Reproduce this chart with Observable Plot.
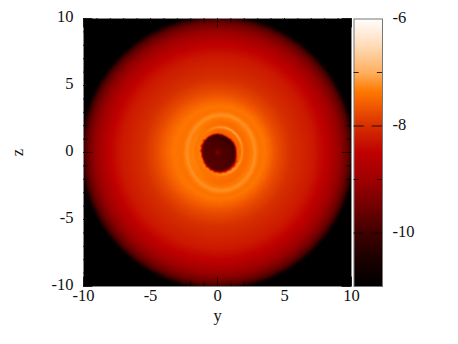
<!DOCTYPE html>
<html><head><meta charset="utf-8">
<script src="https://cdn.jsdelivr.net/npm/d3@7"></script>
<script src="https://cdn.jsdelivr.net/npm/@observablehq/plot@0.6"></script>
<style>
html,body{margin:0;padding:0;background:#fff}
#c{position:relative;width:458px;height:344px;overflow:hidden}
#c svg{position:absolute;left:0;top:0;background:transparent;font-family:"Liberation Serif",serif !important;font-size:16.5px !important}
#c svg text, #c svg g{font-family:"Liberation Serif",serif !important;font-size:16.5px !important;font-variant:normal !important}
</style></head><body><div id="c"></div>
<script>
const colorStops = [-11,-10.5,-10,-9.5,-9,-8.5,-8,-7.6,-7.35,-7,-6.5,-6];
const colorRange = ["#000000","#1a0000","#400000","#720000","#a00000","#c00000","#d63000","#f45c00","#ff7a00","#ffb060","#ffdcb8","#ffffff"];
const axisTicks = [-10,-5,0,5,10];
const minorTicks = [-9,-8,-7,-6,-4,-3,-2,-1,1,2,3,4,6,7,8,9];
const barLabels = [-6,-8,-10];
const barMajor = [-8,-10];
const barMinor = [-7,-9];

// Irregular hole edge: radius every 15 degrees, counter-clockwise from +y
const holeR = [1.34,1.35,1.35,1.33,1.30,1.32,1.34,1.32,1.30,1.26,1.22,1.17,1.14,1.14,1.15,1.20,1.25,1.32,1.39,1.43,1.45,1.46,1.45,1.39];
const holeScale = [0.01,0.25,0.75,0.97,1.03,1.09];
const holeV = [-9.4,-9.85,
  [-9.9,-9.92,-9.95,-9.98,-10,-9.98,-9.95,-9.92,-9.9,-9.88,-9.85,-9.82,-9.8,-9.8,-9.8,-9.8,-9.8,-9.8,-9.8,-9.82,-9.85,-9.85,-9.9,-9.9],
  [-10.1,-10.15,-10.2,-10.25,-10.3,-10.25,-10.2,-10.1,-10,-9.9,-9.85,-9.75,-9.7,-9.7,-9.7,-9.75,-9.8,-9.8,-9.8,-9.85,-9.9,-9.95,-10,-10.05],
  -8.7,
  [-7.6,-7.6,-7.6,-7.6,-7.6,-7.6,-7.6,-7.55,-7.5,-7.48,-7.45,-7.42,-7.4,-7.4,-7.4,-7.4,-7.4,-7.4,-7.4,-7.42,-7.45,-7.5,-7.55,-7.6]
];
// Offset elliptical rings around the hole: centre, radii and value (24 values = every 15 degrees)
const ringCx = [0.2,0.2,0.2,0.2,0.27,0.27,0.25,0.15,0.1];
const ringCy = [0.1,0.1,0.1,0,-0.02,-0.02,-0.03,0,0];
const ringRx = [1.55,1.65,1.76,1.95,2.38,2.53,2.92,3.42,3.85];
const ringRy = [1.69,1.8,1.92,2.28,2.66,2.82,3.18,3.46,3.85];
const crest = [-7.2,-7.12,-7.02,-7.0,-7.0,-7.03,-7.12,-7.2,-7.25,-7.3,-7.32,-7.32,-7.32,-7.32,-7.32,-7.32,-7.32,-7.3,-7.25,-7.18,-7.12,-7.12,-7.12,-7.18];
const ringV  = [-7.42,crest,-7.42,
  [-7.48,-7.48,-7.48,-7.48,-7.48,-7.48,-7.48,-7.45,-7.42,-7.36,-7.33,-7.32,-7.32,-7.32,-7.33,-7.36,-7.42,-7.45,-7.48,-7.48,-7.48,-7.48,-7.48,-7.48],
  -7.32,-7.2,-7.43,-7.38,-7.52];
// Axisymmetric outer disc
const outerR = [4.2,4.6,5.5,6.5,7.2,8,8.5,9.25,9.7,10,10.2,10.4];
const outerV = [-7.65,-7.78,-8,-8.15,-8.25,-8.5,-8.75,-9.2,-9.6,-10,-10.7,-11];

const points = [];
holeScale.forEach((s,j) => holeR.forEach((r,i) => {
  const a=i*2*Math.PI/holeR.length, v=holeV[j];
  points.push({x:r*s*Math.cos(a), y:r*s*Math.sin(a), v:Array.isArray(v)?v[i]:v});
}));
ringRx.forEach((rx,j) => {
  for (let i=0;i<24;i++){
    const a=i*2*Math.PI/24, v=ringV[j];
    points.push({x:ringCx[j]+rx*Math.cos(a), y:ringCy[j]+ringRy[j]*Math.sin(a), v:Array.isArray(v)?v[i]:v});
  }
});
outerR.forEach((r,j) => {
  for (let i=0;i<48;i++){
    const a=i*2*Math.PI/48;
    points.push({x:r*Math.cos(a), y:r*Math.sin(a), v:outerV[j]});
  }
});

const W=458,H=344;
const color={type:"linear",domain:colorStops,range:colorRange,clamp:true};
const style={background:"transparent",color:"#000",overflow:"visible"};
const tk={stroke:"#000",strokeOpacity:0.8};
const main = Plot.plot({
  width:W,height:H,marginLeft:83,marginRight:107,marginTop:18,marginBottom:58,
  style,color,
  x:{domain:[-10,10]},y:{domain:[-10,10]},
  marks:[
    Plot.frame({fill:"#000"}),
    Plot.raster(points,{x:"x",y:"y",fill:"v",interpolate:"barycentric",pixelSize:1}),
    Plot.frame({stroke:"#888",strokeWidth:1}),
    Plot.axisX({anchor:"bottom",ticks:axisTicks,tickSize:0,tickPadding:3,tickFormat:d=>String(d),label:"y",labelAnchor:"center",labelArrow:"none",labelOffset:34,fill:"#111"}),
    Plot.axisY({anchor:"left",ticks:axisTicks,tickSize:0,tickPadding:10,dy:-1.5,tickFormat:d=>String(d),label:null,fill:"#111"}),
    Plot.text(["z"],{x:-10,y:0,dx:-66,rotate:-90,fill:"#111"}),
    Plot.ruleX(axisTicks,{y1:-10,y2:-9.3,...tk}),
    Plot.ruleX(axisTicks,{y1:10,y2:9.3,...tk}),
    Plot.ruleX(minorTicks,{y1:-10,y2:-9.65,...tk}),
    Plot.ruleX(minorTicks,{y1:10,y2:9.65,...tk}),
    Plot.ruleY(axisTicks,{x1:-10,x2:-9.3,...tk}),
    Plot.ruleY(axisTicks,{x1:10,x2:9.3,...tk}),
    Plot.ruleY(minorTicks,{x1:-10,x2:-9.65,...tk}),
    Plot.ruleY(minorTicks,{x1:10,x2:9.65,...tk})
  ]
});
const bar = Plot.plot({
  width:W,height:H,marginLeft:353.5,marginRight:76,marginTop:18.5,marginBottom:58,
  style,color,
  x:{domain:[0,1],axis:null},y:{domain:[-11,-6]},
  marks:[
    Plot.raster({fill:(x,y)=>y,x1:0,x2:1,y1:-11,y2:-6,pixelSize:1}),
    Plot.frame({stroke:"#777",strokeWidth:1}),
    Plot.axisY({anchor:"right",ticks:barLabels,tickSize:0,tickPadding:10,dy:-1.5,tickFormat:d=>String(d),label:null,fill:"#111"}),
    Plot.ruleY(barMajor,{x1:0,x2:0.36,...tk}),
    Plot.ruleY(barMajor,{x1:0.64,x2:1,...tk}),
    Plot.ruleY(barMinor,{x1:0,x2:0.18,...tk}),
    Plot.ruleY(barMinor,{x1:0.82,x2:1,...tk})
  ]
});
document.getElementById("c").append(main,bar);
</script></body></html>
